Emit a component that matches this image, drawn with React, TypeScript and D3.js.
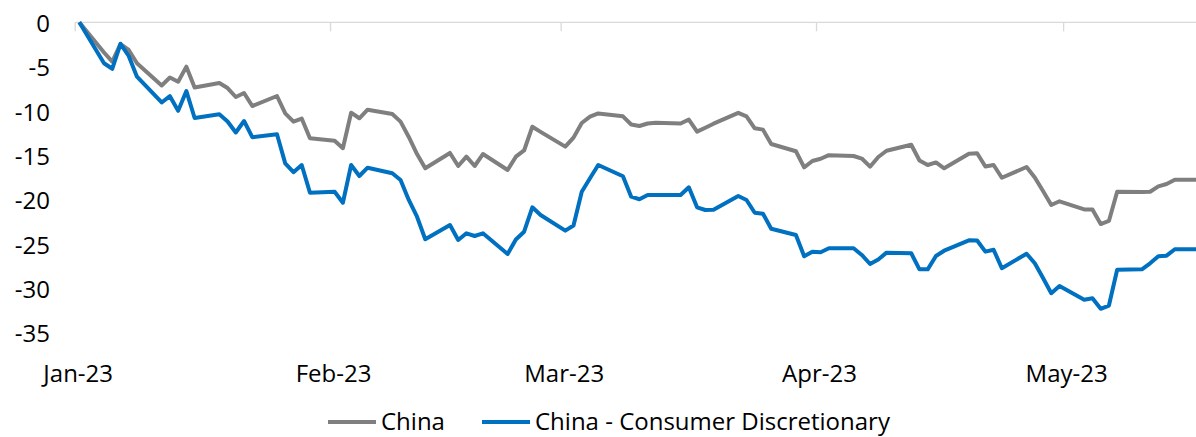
import React from "react";
import * as d3 from "d3";

const dates: string[] = [
  "2022-12-30",
  "2023-01-02","2023-01-03","2023-01-04","2023-01-05","2023-01-06",
  "2023-01-09","2023-01-10","2023-01-11","2023-01-12","2023-01-13",
  "2023-01-16","2023-01-17","2023-01-18","2023-01-19","2023-01-20",
  "2023-01-23","2023-01-24","2023-01-25","2023-01-26","2023-01-27",
  "2023-01-30","2023-01-31","2023-02-01","2023-02-02","2023-02-03",
  "2023-02-06","2023-02-07","2023-02-08","2023-02-09","2023-02-10",
  "2023-02-13","2023-02-14","2023-02-15","2023-02-16","2023-02-17",
  "2023-02-20","2023-02-21","2023-02-22","2023-02-23","2023-02-24",
  "2023-02-27","2023-02-28","2023-03-01","2023-03-02","2023-03-03",
  "2023-03-06","2023-03-07","2023-03-08","2023-03-09","2023-03-10",
  "2023-03-13","2023-03-14","2023-03-15","2023-03-16","2023-03-17",
  "2023-03-20","2023-03-21","2023-03-22","2023-03-23","2023-03-24",
  "2023-03-27","2023-03-28","2023-03-29","2023-03-30","2023-03-31",
  "2023-04-03","2023-04-04","2023-04-05","2023-04-06","2023-04-07",
  "2023-04-10","2023-04-11","2023-04-12","2023-04-13","2023-04-14",
  "2023-04-17","2023-04-18","2023-04-19","2023-04-20","2023-04-21",
  "2023-04-24","2023-04-25","2023-04-26","2023-04-27","2023-04-28",
  "2023-05-01","2023-05-02","2023-05-03","2023-05-04","2023-05-05",
  "2023-05-08","2023-05-09","2023-05-10","2023-05-11","2023-05-12",
  "2023-05-15",
];

const china: number[] = [
  0,
  -3.4, -4.44, -2.45, -3.12, -4.62,
  -7.12, -6.22, -6.7, -5.0, -7.35,
  -6.84, -7.41, -8.42, -7.97, -9.44,
  -8.31, -10.26, -11.2, -10.85, -13.08,
  -13.35, -14.2, -10.19, -10.82, -9.85,
  -10.34, -11.2, -12.93, -14.85, -16.46,
  -14.73, -16.2, -15.15, -16.2, -14.85,
  -16.65, -15.15, -14.45, -11.77, -12.35,
  -14.02, -13.0, -11.35, -10.64, -10.28,
  -10.6, -11.52, -11.69, -11.41, -11.32,
  -11.41, -10.96, -12.33, -11.88, -11.43,
  -10.21, -10.6, -11.95, -12.1, -13.72,
  -14.54, -16.35, -15.64, -15.38, -14.98,
  -15.07, -15.36, -16.28, -15.19, -14.48,
  -13.8, -15.58, -16.09, -15.8, -16.46,
  -14.81, -14.77, -16.26, -16.09, -17.53,
  -16.31, -17.5, -19.02, -20.6, -20.18,
  -21.1, -21.1, -22.74, -22.4, -19.1,
  -19.13, -19.1, -18.49, -18.23, -17.75,
  -17.75,
];

const consumerDiscretionary: number[] = [
  0,
  -4.62, -5.24, -2.42, -3.8, -6.13,
  -9.04, -8.33, -9.98, -7.75, -10.79,
  -10.37, -11.18, -12.42, -11.13, -12.95,
  -12.62, -15.9, -16.9, -16.09, -19.21,
  -19.1, -20.34, -16.09, -17.33, -16.39,
  -17.02, -17.78, -20.03, -21.92, -24.46,
  -22.85, -24.54, -23.79, -24.09, -23.79,
  -26.12, -24.49, -23.61, -20.86, -21.72,
  -23.49, -22.91, -19.1, -17.59, -16.09,
  -17.36, -19.66, -19.95, -19.47, -19.47,
  -19.47, -18.6, -20.86, -21.16, -21.13,
  -19.58, -20.03, -21.47, -21.58, -23.28,
  -23.98, -26.38, -25.86, -25.92, -25.48,
  -25.48, -26.23, -27.25, -26.74, -25.97,
  -26.04, -27.85, -27.85, -26.35, -25.75,
  -24.58, -24.6, -25.86, -25.64, -27.73,
  -26.09, -27.17, -28.83, -30.55, -29.73,
  -31.27, -31.12, -32.3, -31.93, -27.89,
  -27.85, -27.17, -26.38, -26.31, -25.59,
  -25.59,
];

const yTicks: number[] = [0, -5, -10, -15, -20, -25, -30, -35];
const xTickDates: string[] = [
  "2022-12-29T12:00", "2023-01-29T12:00", "2023-02-26T12:00", "2023-03-29T12:00", "2023-04-28T12:00",
];
const xTickLabels: string[] = ["Jan-23", "Feb-23", "Mar-23", "Apr-23", "May-23"];

const seriesNames = ["China", "China - Consumer Discretionary"];
const seriesColors = ["#7f7f7f", "#0070c0"];

const W = 1196;
const H = 437;
const FONT = "'Segoe UI', 'Open Sans', sans-serif";

export default function App() {
  const parse = (s: string) => new Date(s.length > 10 ? s : s + "T00:00");
  const dts = dates.map(parse);
  const x = d3
    .scaleTime()
    .domain([parse("2022-12-30"), parse("2023-05-15")])
    .range([79.3, 79.3 + 136 * 8.237]);
  const y = d3.scaleLinear().domain([0, -35]).range([22.3, 332.75]);

  const line = d3
    .line<number>()
    .x((_, i) => x(dts[i]))
    .y((v) => y(v));

  const series = [china, consumerDiscretionary];

  return (
    <div style={{ position: "fixed", left: 0, top: 0, width: W, height: H, background: "#fff" }}>
      <svg width={W} height={H} style={{ display: "block", fontFamily: FONT }}>
        <rect x={0} y={0} width={W} height={H} fill="#fff" />
        {yTicks.map((t) => (
          <text
            key={t}
            x={50}
            y={y(t)}
            textAnchor="end"
            dominantBaseline="central"
            fontSize={24}
            fill="#000"
          >
            {t}
          </text>
        ))}
        <line x1={75.2} x2={W} y1={y(0)} y2={y(0)} stroke="#d9d9d9" strokeWidth={1.3} />
        {xTickDates.map((d, i) => {
          const tx = x(parse(d));
          return (
            <g key={d}>
              <line x1={tx} x2={tx} y1={y(0)} y2={y(0) + 9} stroke="#d9d9d9" strokeWidth={1.3} />
              <text
                x={tx + 3}
                y={372}
                textAnchor="middle"
                dominantBaseline="central"
                fontSize={24}
                fill="#000"
              >
                {xTickLabels[i]}
              </text>
            </g>
          );
        })}
        {series.map((s, i) => (
          <path
            key={i}
            d={line(s) || ""}
            fill="none"
            stroke={seriesColors[i]}
            strokeWidth={4}
            strokeLinejoin="round"
          />
        ))}
        <g>
          <line x1={328} x2={376} y1={422} y2={422} stroke={seriesColors[0]} strokeWidth={4} />
          <text x={381} y={420} dominantBaseline="central" fontSize={24} fill="#000">
            {seriesNames[0]}
          </text>
          <line x1={482} x2={530} y1={422} y2={422} stroke={seriesColors[1]} strokeWidth={4} />
          <text x={535} y={420} dominantBaseline="central" fontSize={24} fill="#000">
            {seriesNames[1]}
          </text>
        </g>
      </svg>
    </div>
  );
}
